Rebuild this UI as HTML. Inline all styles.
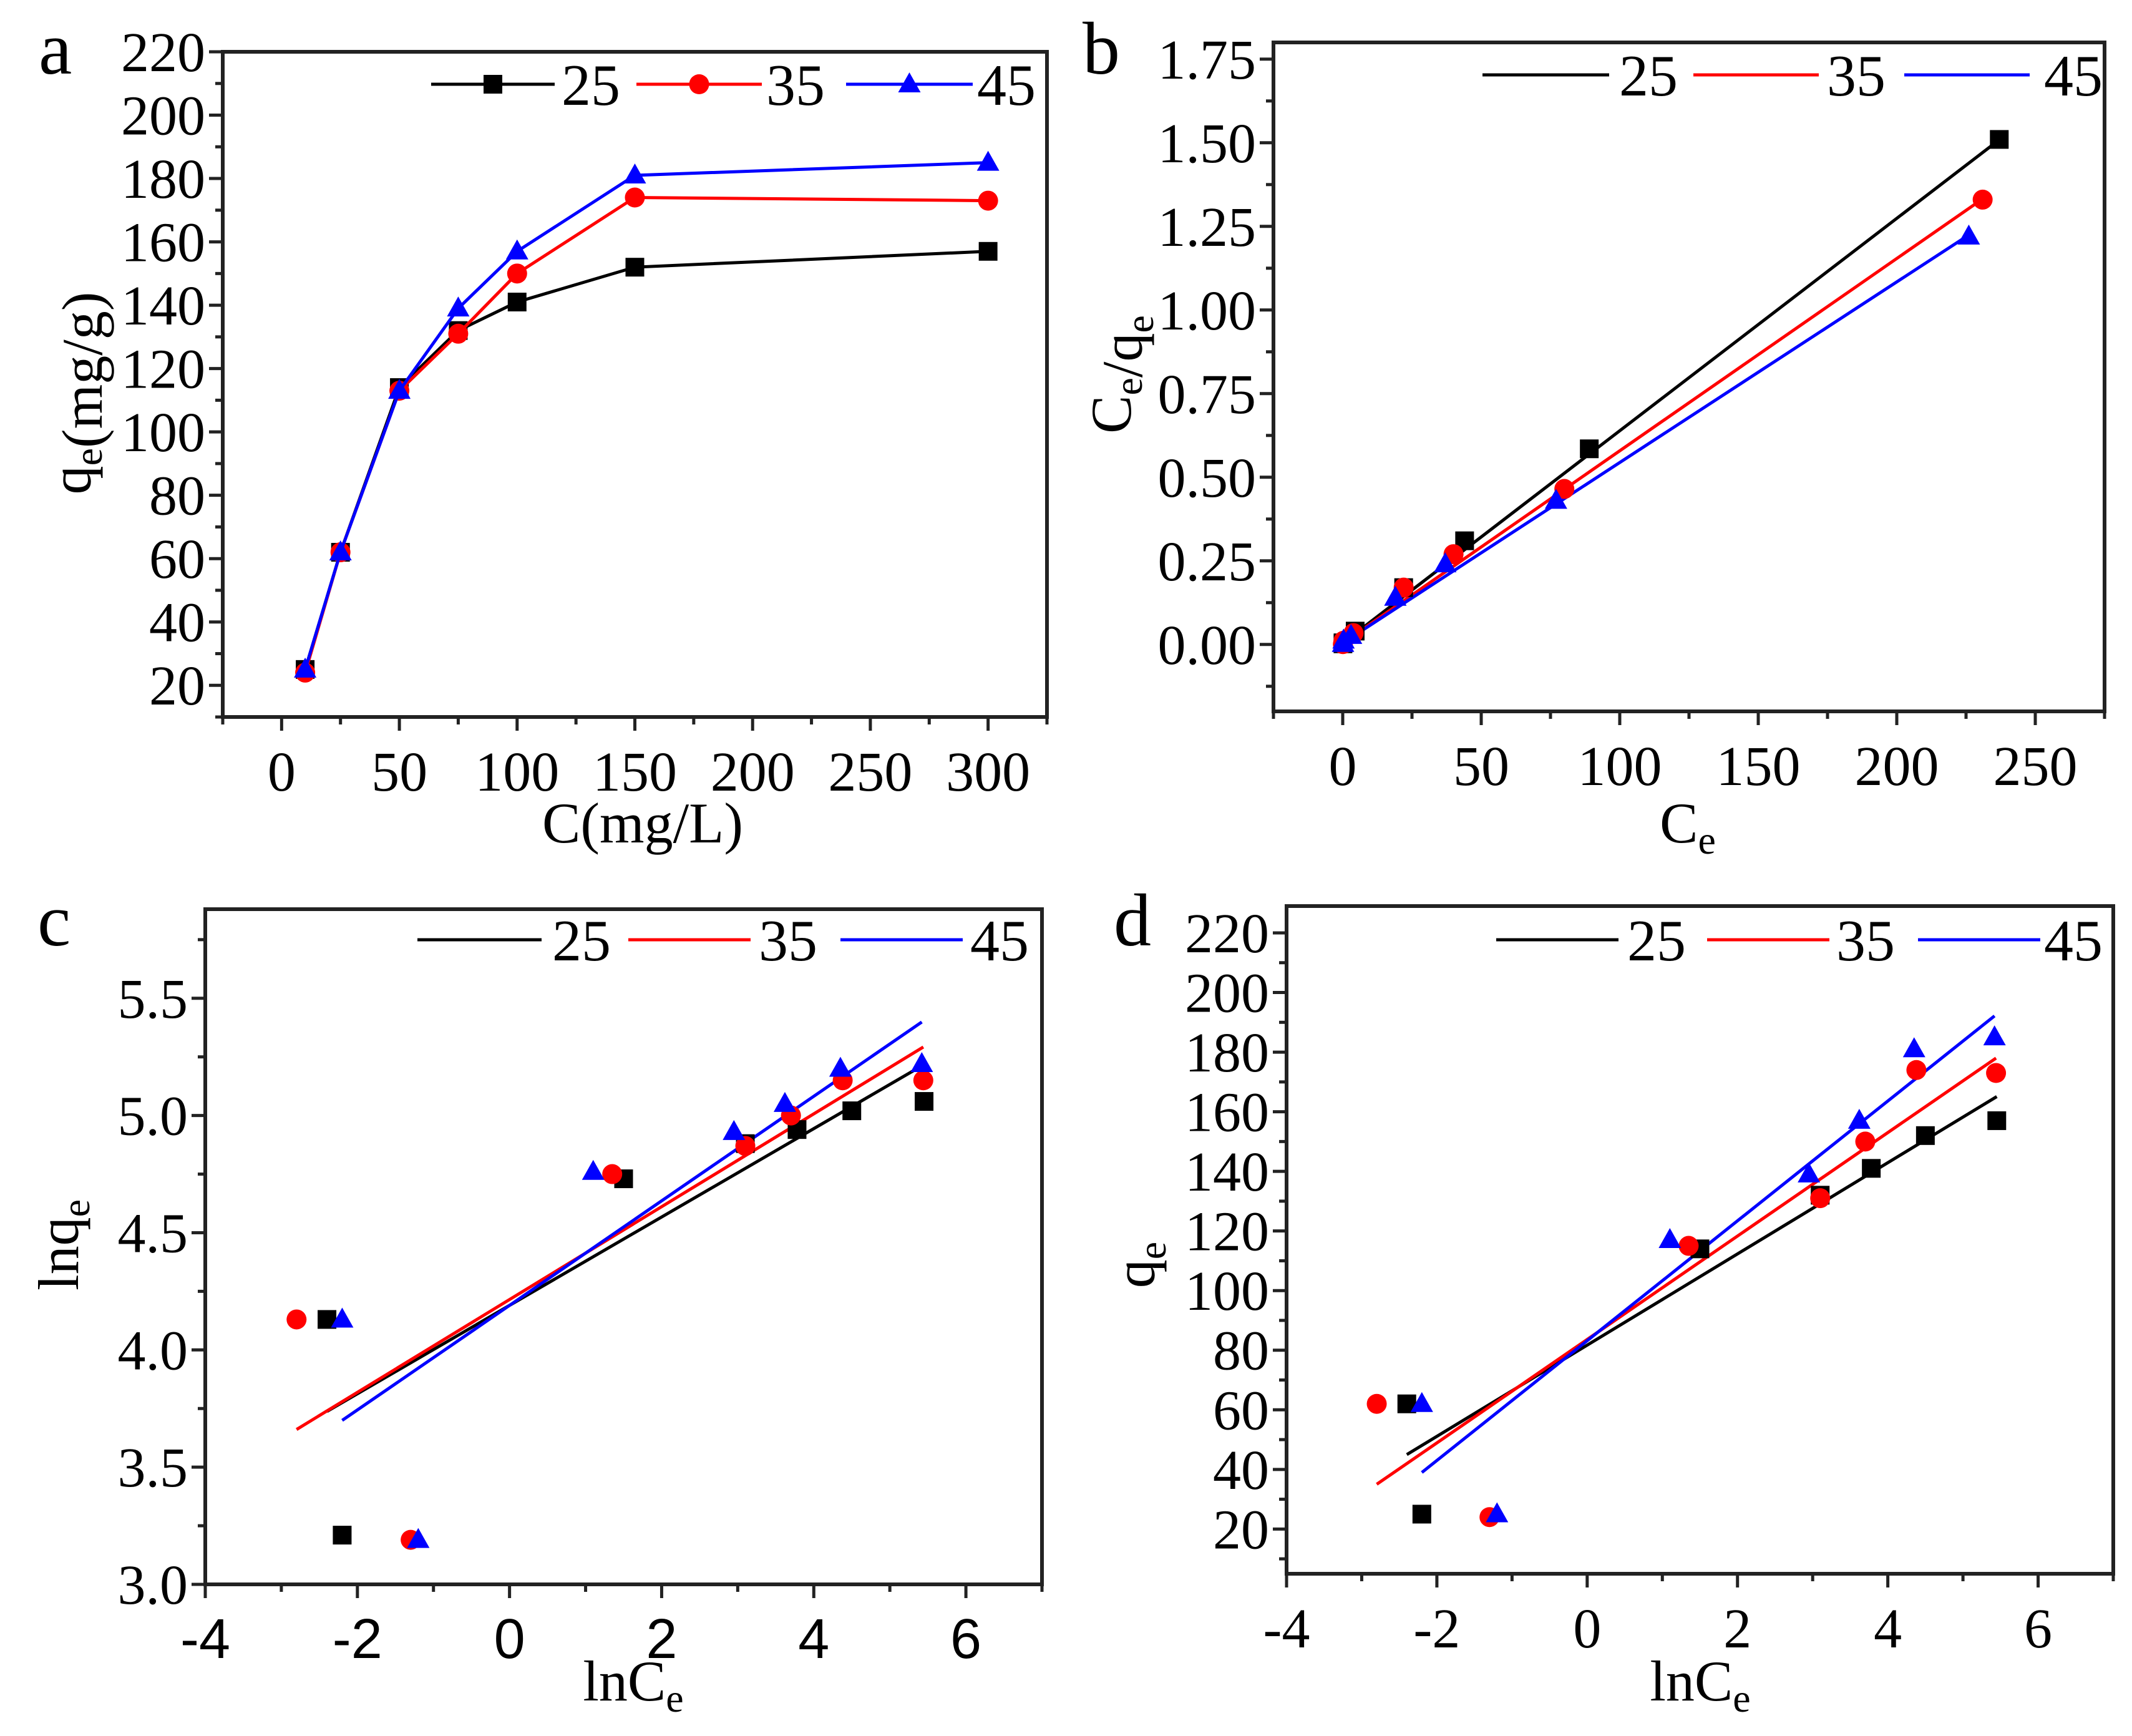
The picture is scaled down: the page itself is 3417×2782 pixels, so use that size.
<!DOCTYPE html>
<html><head><meta charset="utf-8"><style>
html,body{margin:0;padding:0;background:#fff;}
svg{display:block;font-family:"Liberation Serif",serif;}
</style></head><body>
<svg id="fig" width="3417" height="2782" viewBox="0 0 3417 2782" xmlns="http://www.w3.org/2000/svg"></svg>
<script>
// ---- Panel a data ----
const aC = [10, 25, 50, 75, 100, 150, 300];
const aQ25 = [25, 62, 114, 132, 141, 152, 157];
const aQ35 = [24, 62, 113, 131, 150, 174, 173];
const aQ45 = [25, 62, 113, 139, 157, 181, 185];
// ---- Panel b data (Langmuir) ----
const bCe25 = [0.09, 0.11, 4.5, 22, 44, 89, 237];
const bY25 = [0.002, 0.005, 0.04, 0.17, 0.31, 0.585, 1.51];
const bCe35 = [0.06, 0.27, 3.9, 22, 40, 80, 231];
const bY35 = [0.001, 0.011, 0.034, 0.17, 0.27, 0.465, 1.33];
const bCe45 = [0.11, 0.3, 3, 19, 37, 77, 226];
const bY45 = [0.002, 0.012, 0.026, 0.14, 0.24, 0.43, 1.22];
const bSlope = [0.00635, 0.00575, 0.0054];
const bInter = [0.004, 0.004, 0.004];
// ---- Panel c data (Freundlich) ----
const cX25 = [-2.4, -2.2, 1.5, 3.1, 3.78, 4.5, 5.45];
const cY25 = [4.13, 3.21, 4.73, 4.88, 4.94, 5.02, 5.06];
const cX35 = [-2.8, -1.3, 1.35, 3.1, 3.7, 4.38, 5.44];
const cY35 = [4.13, 3.19, 4.75, 4.87, 5.0, 5.15, 5.15];
const cX45 = [-2.2, -1.2, 1.1, 2.95, 3.62, 4.35, 5.42];
const cY45 = [4.13, 3.19, 4.76, 4.93, 5.05, 5.2, 5.22];
const cSlope = [0.1885, 0.198, 0.223];
const cInter = [4.19, 4.215, 4.19];
// ---- Panel d data (Temkin) ----
const dY25 = [62, 25, 114, 132, 141, 152, 157];
const dY35 = [62, 24, 115, 131, 150, 174, 173];
const dY45 = [62, 25, 117, 139, 157, 181, 185];
const dSlope = [15.3, 17.35, 20.1];
const dInter = [81.7, 83.6, 83.2];
// ---- tick labels ----
const aYTicks = [20, 40, 60, 80, 100, 120, 140, 160, 180, 200, 220];
const aXTicks = [0, 50, 100, 150, 200, 250, 300];
const bYTicks = ["0.00", "0.25", "0.50", "0.75", "1.00", "1.25", "1.50", "1.75"];
const bXTicks = [0, 50, 100, 150, 200, 250];
const cYTicks = ["3.0", "3.5", "4.0", "4.5", "5.0", "5.5"];
const cXTicks = [-4, -2, 0, 2, 4, 6];
const dYTicks = [20, 40, 60, 80, 100, 120, 140, 160, 180, 200, 220];
const dXTicks = [-4, -2, 0, 2, 4, 6];
const legendLabels = ["25", "35", "45"];
const colors = ["#000000", "#ff0000", "#0000ff"];

const NS = "http://www.w3.org/2000/svg";
const svg = document.getElementById("fig");
function mk(tag, attrs, parent) {
  const e = document.createElementNS(NS, tag);
  for (const k in attrs) e.setAttribute(k, attrs[k]);
  (parent || svg).appendChild(e);
  return e;
}
function panel(p) {
  const g = mk("g", {});
  
  
  const sx = v => p.L + (v - p.x0) / (p.x1 - p.x0) * (p.R - p.L);
  const sy = v => p.B - (v - p.y0) / (p.y1 - p.y0) * (p.B - p.T);
  p.sx = sx; p.sy = sy;
  const tg = mk("g", {stroke: "#222", "stroke-width": 5}, g);
  
  
  for (let v = p.xMinorStart; v <= p.x1 + 1e-9; v += p.xMinor) {
    const x = sx(v); const maj = Math.abs(((v - p.xMajorBase) / p.xMajor) - Math.round((v - p.xMajorBase) / p.xMajor)) < 1e-6;
    mk("line", {x1: x, x2: x, y1: p.B, y2: p.B + (maj ? 22 : 12)}, tg);
  }
  for (let v = p.yMinorStart; v <= p.y1 + 1e-9; v += p.yMinor) {
    const y = sy(v); const maj = Math.abs(((v - p.yMajorBase) / p.yMajor) - Math.round((v - p.yMajorBase) / p.yMajor)) < 1e-6;
    mk("line", {x1: p.L, x2: p.L - (maj ? 22 : 12), y1: y, y2: y}, tg);
  }
  const fr = mk("rect", {x: p.L, y: p.T, width: p.R - p.L, height: p.B - p.T, fill: "none", stroke: "#222", "stroke-width": 6}, g);
  
  
  p.xTicks.forEach(t => {
    const e = mk("text", {x: sx(+t), y: p.B + 118, "text-anchor": "middle", "font-size": 90, "font-family": p.xFont || "Liberation Serif, serif"}, g);
    e.textContent = t;
    
    
  });
  p.yTicks.forEach(t => {
    const e = mk("text", {x: p.L - 28, y: sy(+t) + 31, "text-anchor": "end", "font-size": 90}, g);
    e.textContent = t;
    
    
  });
  const lt = mk("text", {x: p.letterX, y: p.letterY, "font-size": 120}, g);
  lt.textContent = p.id;
  
  
  const xt = mk("text", {x: p.xtX, y: p.xtY, "text-anchor": "middle", "font-size": 92}, g);
  xt.innerHTML = p.xTitle;
  
  
  const yt = mk("text", {x: 0, y: 0, "text-anchor": "middle", "font-size": 92, transform: `translate(${p.ytX},${p.ytY}) rotate(-90)`}, g);
  yt.innerHTML = p.yTitle;
  
  
  return g;
}
function marker(g, k, x, y, c) {
  let e;
  if (k === 0) e = mk("rect", {x: x - 15, y: y - 15, width: 30, height: 30, fill: c}, g);
  else if (k === 1) e = mk("circle", {cx: x, cy: y, r: 16, fill: c}, g);
  else e = mk("polygon", {points: `${x},${y - 19} ${x - 18},${y + 13} ${x + 18},${y + 13}`, fill: c}, g);
  return e;
}
function series(p, g, k, xs, ys, connect) {
  const sg = mk("g", {}, g);
  
  
  if (connect) {
    const pl = mk("polyline", {points: xs.map((x, i) => p.sx(x) + "," + p.sy(ys[i])).join(" "), fill: "none", stroke: colors[k], "stroke-width": 5}, sg);
    
    
  }
  xs.forEach((x, i) => {
    const m = marker(sg, k, p.sx(x), p.sy(ys[i]), colors[k]);
    
    
  });
}
function fit(p, g, k, xs, slope, inter) {
  const xa = Math.min(...xs), xb = Math.max(...xs);
  const l = mk("line", {x1: p.sx(xa), y1: p.sy(inter + slope * xa), x2: p.sx(xb), y2: p.sy(inter + slope * xb), stroke: colors[k], "stroke-width": 5}, g);
  
  
}
function legend(g, y, segs, withMarker) {
  segs.forEach((s, k) => {
    const lg = mk("g", {}, g);
    
    
    mk("line", {x1: s[0], x2: s[1], y1: y, y2: y, stroke: colors[k], "stroke-width": 5}, lg);
    if (withMarker) marker(lg, k, (s[0] + s[1]) / 2, y, colors[k]);
    const t = mk("text", {x: s[2], y: y + 33, "font-size": 94}, lg);
    t.textContent = legendLabels[k];
  });
}
const sub = (a, b) => `${a}<tspan dy="18" font-size="64">${b}</tspan>`;

const pa = {id: "a", L: 357, R: 1678, T: 83, B: 1149, x0: -25, x1: 325, y0: 10, y1: 220,
  xMinor: 25, xMinorStart: -25, xMajor: 50, xMajorBase: 0, yMinor: 10, yMinorStart: 10, yMajor: 20, yMajorBase: 20,
  xTicks: aXTicks, yTicks: aYTicks, letterX: 62, letterY: 118, xtX: 1030, xtY: 1350, xTitle: "C(mg/L)",
  ytX: 145, ytY: 630, yTitle: sub("q", "e") + "(mg/g)"};
const ga = panel(pa);
series(pa, ga, 0, aC, aQ25, true);
series(pa, ga, 1, aC, aQ35, true);
series(pa, ga, 2, aC, aQ45, true);
legend(ga, 135, [[691, 889, 900], [1020, 1221, 1228], [1356, 1559, 1566]], true);

const pb = {id: "b", L: 2041, R: 3373, T: 68, B: 1140, x0: -25, x1: 275, y0: -0.2, y1: 1.8,
  xMinor: 25, xMinorStart: -25, xMajor: 50, xMajorBase: 0, yMinor: 0.125, yMinorStart: -0.125, yMajor: 0.25, yMajorBase: 0,
  xTicks: bXTicks, yTicks: bYTicks, letterX: 1735, letterY: 118, xtX: 2705, xtY: 1350, xTitle: sub("C", "e"),
  ytX: 1812, ytY: 600, yTitle: sub("C", "e") + "/" + sub("q", "e")};
const gb = panel(pb);
fit(pb, gb, 0, bCe25, bSlope[0], bInter[0]);
fit(pb, gb, 1, bCe35, bSlope[1], bInter[1]);
fit(pb, gb, 2, bCe45, bSlope[2], bInter[2]);
series(pb, gb, 0, bCe25, bY25, false);
series(pb, gb, 1, bCe35, bY35, false);
series(pb, gb, 2, bCe45, bY45, false);
legend(gb, 120, [[2376, 2579, 2595], [2714, 2915, 2928], [3052, 3253, 3276]], false);

const pc = {id: "c", L: 329, R: 1670, T: 1457, B: 2539, x0: -4, x1: 7, y0: 3.0, y1: 5.88,
  xMinor: 1, xMinorStart: -4, xMajor: 2, xMajorBase: 0, yMinor: 0.25, yMinorStart: 3.0, yMajor: 0.5, yMajorBase: 3.0,
  xTicks: cXTicks, yTicks: cYTicks, letterX: 60, letterY: 1515, xtX: 1015, xtY: 2725, xTitle: "ln" + sub("C", "e"),
  xFont: "Liberation Sans, sans-serif", ytX: 125, ytY: 1995, yTitle: "ln" + sub("q", "e")};
const gc = panel(pc);
fit(pc, gc, 0, cX25, cSlope[0], cInter[0]);
fit(pc, gc, 1, cX35, cSlope[1], cInter[1]);
fit(pc, gc, 2, cX45, cSlope[2], cInter[2]);
series(pc, gc, 0, cX25, cY25, false);
series(pc, gc, 1, cX35, cY35, false);
series(pc, gc, 2, cX45, cY45, false);
legend(gc, 1506, [[669, 868, 885], [1007, 1203, 1216], [1347, 1543, 1555]], false);

const pd = {id: "d", L: 2062, R: 3387, T: 1452, B: 2522, x0: -4, x1: 7, y0: 5, y1: 229,
  xMinor: 1, xMinorStart: -4, xMajor: 2, xMajorBase: 0, yMinor: 10, yMinorStart: 10, yMajor: 20, yMajorBase: 20,
  xTicks: dXTicks, yTicks: dYTicks, letterX: 1785, letterY: 1515, xtX: 2725, xtY: 2725, xTitle: "ln" + sub("C", "e"),
  ytX: 1850, ytY: 2027, yTitle: sub("q", "e")};
const gd = panel(pd);
fit(pd, gd, 0, cX25, dSlope[0], dInter[0]);
fit(pd, gd, 1, cX35, dSlope[1], dInter[1]);
fit(pd, gd, 2, cX45, dSlope[2], dInter[2]);
series(pd, gd, 0, cX25, dY25, false);
series(pd, gd, 1, cX35, dY35, false);
series(pd, gd, 2, cX45, dY45, false);
legend(gd, 1506, [[2398, 2594, 2608], [2736, 2932, 2943], [3074, 3270, 3276]], false);
</script>
</body></html>
